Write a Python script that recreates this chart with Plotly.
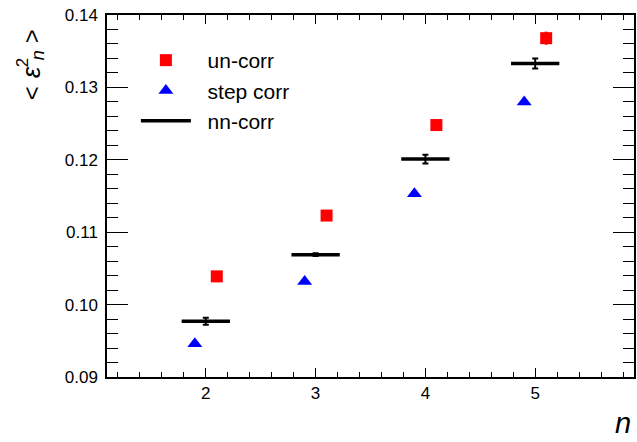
import plotly.graph_objects as go

# ---- data ----
n_vals = [2, 3, 4, 5]
uncorr = [0.1039, 0.1123, 0.1248, 0.1368]
uncorr_err = [0.0002, 0.0002, 0.0002, 0.0009]
stepcorr = [0.0946, 0.1032, 0.1153, 0.1280]
nncorr = [0.0977, 0.1069, 0.1201, 0.1333]
nncorr_err = [0.0005, 0.0002, 0.0006, 0.0007]
bin_half = 0.22
offset = 0.1
x_ticks = [2, 3, 4, 5]

W, H = 637, 442
L, R, T, B = 107, 1, 15, 65
pw, ph = W - L - R, H - T - B

def px(xp):
    return (xp - L) / pw

def py(yp):
    return (H - B - yp) / ph

FONT = "Liberation Sans, Arial, Helvetica, sans-serif"
PAD = "\u00a0\u00a0"

fig = go.Figure()

fig.add_trace(go.Scatter(
    x=[v + offset for v in n_vals], y=uncorr, mode="markers", name=PAD + "un-corr",
    marker=dict(symbol="square", size=12, color="#ff0000"),
    error_y=dict(type="data", array=uncorr_err, visible=True, color="#ff0000",
                 thickness=3, width=0),
))
fig.add_trace(go.Scatter(
    x=[v - offset for v in n_vals], y=stepcorr, mode="markers", name=PAD + "step corr",
    marker=dict(symbol="triangle-up", size=13, color="#0000ff"),
))
fig.add_trace(go.Scatter(
    x=n_vals, y=nncorr, mode="markers", showlegend=False, name="nn-corr",
    marker=dict(size=1, color="rgba(0,0,0,0)"),
    error_x=dict(type="data", array=[bin_half] * len(n_vals), visible=True,
                 color="black", thickness=3.5, width=0),
    error_y=dict(type="data", array=nncorr_err, visible=True,
                 color="black", thickness=2, width=3),
))
fig.add_trace(go.Scatter(
    x=[None], y=[None], mode="lines", name=PAD + "nn-corr",
    line=dict(color="black", width=3.5),
))

axis_common = dict(
    showgrid=False, zeroline=False, showline=True, linecolor="black",
    linewidth=1.5, mirror="ticks", ticks="inside", tickcolor="black",
    tickfont=dict(family=FONT, size=17, color="black"),
)

fig.update_xaxes(
    range=[1.1, 5.9], tickvals=x_ticks, ticklen=9, tickwidth=1.2,
    minor=dict(ticks="inside", dtick=0.2, tick0=0, ticklen=5, tickcolor="black", tickwidth=1),
    **axis_common,
)
fig.update_yaxes(
    range=[0.09, 0.14], dtick=0.01, tick0=0.09, tickformat=".2f", ticklen=21, tickwidth=1.2,
    minor=dict(ticks="inside", dtick=0.002, tick0=0.09, ticklen=11, tickcolor="black", tickwidth=1),
    ticklabelstandoff=4,
    **axis_common,
)

annotations = [
    dict(text="<i>n</i>", x=px(625), y=py(423), font=dict(family=FONT, size=29, color="black")),
    dict(text="&lt;", x=px(31), y=py(93), textangle=-90, font=dict(family=FONT, size=24, color="black")),
    dict(text="<i>ε</i>", x=px(31), y=py(72), textangle=-90, font=dict(family=FONT, size=26, color="black")),
    dict(text="2", x=px(22), y=py(63), textangle=-90, font=dict(family=FONT, size=17, color="black")),
    dict(text="<i>n</i>", x=px(38), y=py(55), textangle=-90, font=dict(family=FONT, size=18, color="black")),
    dict(text="&gt;", x=px(31), y=py(36), textangle=-90, font=dict(family=FONT, size=24, color="black")),
]
for a in annotations:
    a.update(xref="paper", yref="paper", showarrow=False, xanchor="center", yanchor="middle")

fig.update_layout(
    width=W, height=H,
    margin=dict(l=L, r=R, t=T, b=B),
    paper_bgcolor="white", plot_bgcolor="white",
    font=dict(family=FONT, color="black"),
    legend=dict(x=px(136), y=py(40), xanchor="left", yanchor="top",
                font=dict(family=FONT, size=21, color="black"),
                bgcolor="rgba(0,0,0,0)", itemwidth=50, tracegroupgap=0),
    annotations=annotations,
)

fig.write_html("out.html", config={"displayModeBar": False},
               post_script="document.body.style.margin='0';document.body.style.overflow='hidden';")
